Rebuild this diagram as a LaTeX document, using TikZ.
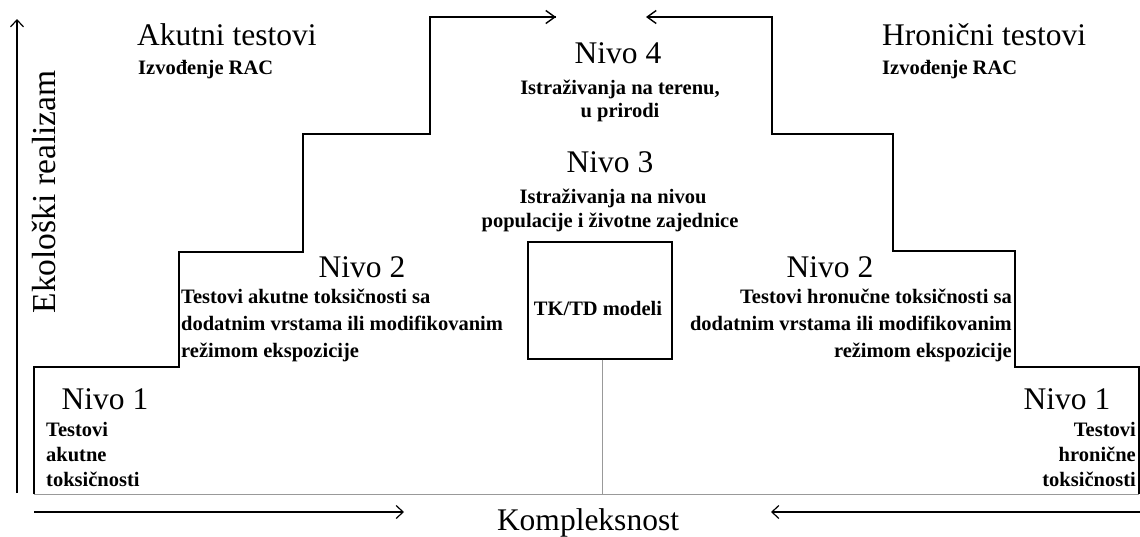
\documentclass[tikz,border=0pt]{standalone}
\usepackage{fontspec}
\setmainfont{Liberation Serif}
\usetikzlibrary{arrows.meta}
\tikzset{
  big/.style={font=\fontsize{31.5}{36}\selectfont, inner sep=0pt},
  small/.style={font=\fontsize{20.5}{26}\selectfont\bfseries, inner sep=0pt},
  stair/.style={line width=1.7pt, line join=miter},
  axis/.style={line width=1.2pt, -{Straight Barb[length=7pt,width=13pt,line width=1.2pt]}},
  thin gray/.style={line width=0.9pt, draw=black!40},
}
\begin{document}
\begin{tikzpicture}[x=1pt,y=-1pt]
\useasboundingbox (0,0) rectangle (1140,536);
% staircase coordinates
\coordinate (L0) at (34,494);
\coordinate (L1) at (34,367);
\coordinate (L2) at (179,367);
\coordinate (L3) at (179,252);
\coordinate (L4) at (303,252);
\coordinate (L5) at (303,134);
\coordinate (L6) at (430,134);
\coordinate (L7) at (430,17);
\coordinate (LT) at (556,17);
\coordinate (R0) at (1139,494);
\coordinate (R1) at (1139,367);
\coordinate (R2) at (1015,367);
\coordinate (R3) at (1015,251);
\coordinate (R4) at (893,251);
\coordinate (R5) at (893,134);
\coordinate (R6) at (772,134);
\coordinate (R7) at (772,17);
\coordinate (RT) at (646,17);
\draw[stair] (L0) -- (L1) -- (L2) -- (L3) -- (L4) -- (L5) -- (L6) -- (L7) -- (LT);
\draw[stair,-{Straight Barb[length=9pt,width=13pt,line width=1.4pt]}] (L6) -- (L7) -- (LT);
\draw[stair] (R0) -- (R1) -- (R2) -- (R3) -- (R4) -- (R5) -- (R6) -- (R7);
\draw[stair,-{Straight Barb[length=9pt,width=13pt,line width=1.4pt]}] (R6) -- (R7) -- (RT);
% baseline
\draw[thin gray] (L0) -- (R0);
% model box
\node[draw, line width=1.2pt, minimum width=144pt, minimum height=117pt, inner sep=0pt] (box) at (600,300.5) {};
\node[small, anchor=base] (tktd) at (598,315) {TK/TD modeli};
\coordinate (B0) at (602,494);
\draw[thin gray] (box.south -| B0) -- (B0);
% axes
\coordinate (Y0) at (17,493);
\coordinate (Y1) at (17,19);
\draw[axis] (Y0) -- (Y1);
\coordinate (XA0) at (34,512);
\coordinate (XA1) at (404,512);
\coordinate (XB0) at (1140,512);
\coordinate (XB1) at (771,512);
\draw[axis] (XA0) -- (XA1);
\draw[axis] (XB0) -- (XB1);
\node[font=\fontsize{33.5}{38}\selectfont, inner sep=0pt, anchor=base, rotate=90] (ylab) at (55,192) {Ekološki realizam};
\node[big, anchor=base] (xlab) at (588,530) {Kompleksnost};
% headers
\node[big, anchor=base west] (akutni) at (137,45) {Akutni testovi};
\node[small, anchor=base west] (izv1) at (138,74) {Izvođenje RAC};
\node[big, anchor=base west] (hron) at (882,45) {Hronični testovi};
\node[small, anchor=base west] (izv2) at (882,74) {Izvođenje RAC};
% Nivo 4
\node[big, anchor=base] (n4) at (618,63) {Nivo 4};
\node[small, anchor=base] (n4a) at (620,94) {Istraživanja na terenu,};
\node[small, anchor=base] (n4b) at (620,117) {u prirodi};
% Nivo 3
\node[big, anchor=base] (n3) at (610,172) {Nivo 3};
\node[small, anchor=base] (n3a) at (613,203) {Istraživanja na nivou};
\node[small, anchor=base] (n3b) at (610,227) {populacije i životne zajednice};
% Nivo 2 left
\node[big, anchor=base] (n2l) at (362,277) {Nivo 2};
\node[small, anchor=base west] (n2la) at (181,303) {Testovi akutne toksičnosti sa};
\node[small, anchor=base west] (n2lb) at (181,330) {dodatnim vrstama ili modifikovanim};
\node[small, anchor=base west] (n2lc) at (181,357) {režimom ekspozicije};
% Nivo 2 right
\node[big, anchor=base] (n2r) at (830,277) {Nivo 2};
\node[small, anchor=base east] (n2ra) at (1012,303) {Testovi hronučne toksičnosti sa};
\node[small, anchor=base east] (n2rb) at (1012,330) {dodatnim vrstama ili modifikovanim};
\node[small, anchor=base east] (n2rc) at (1012,357) {režimom ekspozicije};
% Nivo 1 left
\node[big, anchor=base] (n1l) at (105,409) {Nivo 1};
\node[small, anchor=base west] (n1la) at (46,436) {Testovi};
\node[small, anchor=base west] (n1lb) at (46,461) {akutne};
\node[small, anchor=base west] (n1lc) at (46,486) {toksičnosti};
% Nivo 1 right
\node[big, anchor=base] (n1r) at (1067,409) {Nivo 1};
\node[small, anchor=base east] (n1ra) at (1136,436) {Testovi};
\node[small, anchor=base east] (n1rb) at (1136,461) {hronične};
\node[small, anchor=base east] (n1rc) at (1136,486) {toksičnosti};
\end{tikzpicture}
\end{document}
